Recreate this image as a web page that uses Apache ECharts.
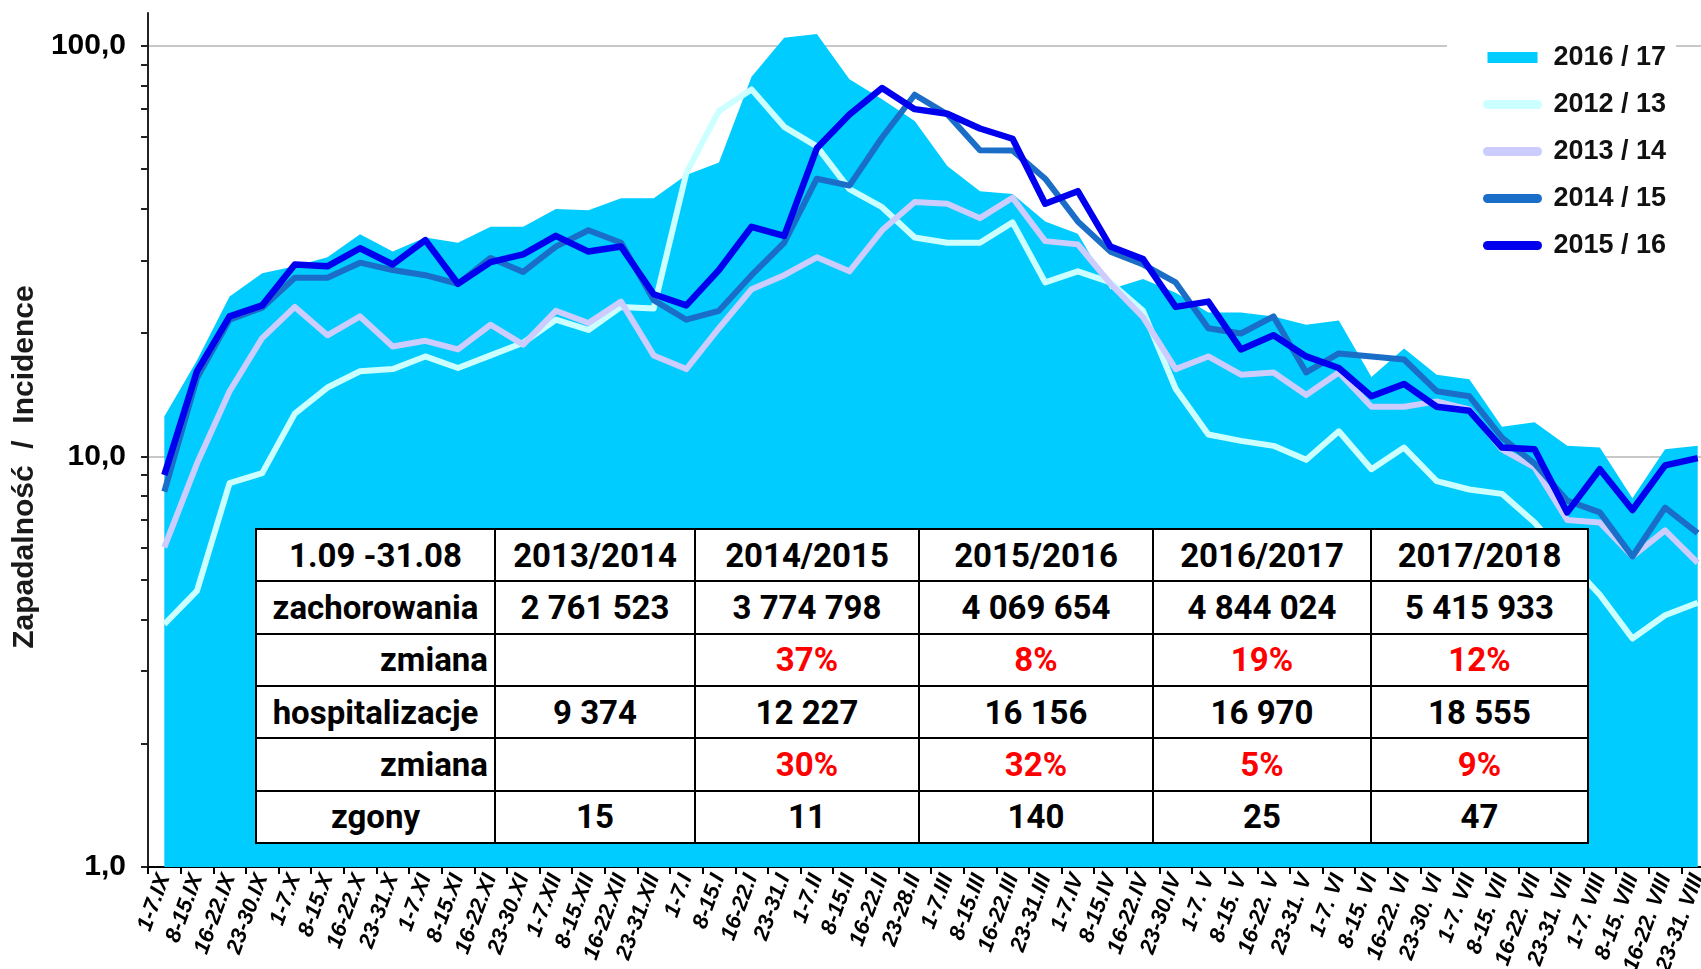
<!DOCTYPE html>
<html>
<head>
<meta charset="utf-8">
<script src="https://cdn.jsdelivr.net/npm/echarts@6/dist/echarts.min.js"></script>
<style>
  html, body { margin: 0; padding: 0; background: #fff; }
  #wrap { position: relative; width: 1701px; height: 969px; overflow: hidden; }
  #main { position: absolute; left: 0; top: 0; width: 1701px; height: 969px; }
  #tab {
    position: absolute; left: 255px; top: 528px; width: 1332px; height: 316px;
    border-collapse: collapse; background: #fff; table-layout: fixed;
    font-family: Roboto, sans-serif; font-weight: bold; font-size: 33px; color: #000;
  }
  #tab td { border: 2px solid #000; text-align: center; padding: 0 6px; white-space: nowrap; }
  #tab td.r { text-align: right; }
  #tab td.red { color: #ff0000; }
</style>
</head>
<body>
<div id="wrap">
  <div id="main"></div>
  <table id="tab"></table>
</div>
<script>
// tygodnie sezonu 1.09 - 31.08
var categories = [
  '1-7.IX', '8-15.IX', '16-22.IX', '23-30.IX', '1-7.X', '8-15.X', '16-22.X', '23-31.X',
  '1-7.XI', '8-15.XI', '16-22.XI', '23-30.XI', '1-7.XII', '8-15.XII', '16-22.XII', '23-31.XII',
  '1-7.I', '8-15.I', '16-22.I', '23-31.I', '1-7.II', '8-15.II', '16-22.II', '23-28.II',
  '1-7.III', '8-15.III', '16-22.III', '23-31.III', '1-7.IV', '8-15.IV', '16-22.IV', '23-30.IV',
  '1-7. V', '8-15. V', '16-22. V', '23-31. V', '1-7. VI', '8-15. VI', '16-22. VI', '23-30. VI',
  '1-7. VII', '8-15. VII', '16-22. VII', '23-31. VII', '1-7. VIII', '8-15. VIII', '16-22. VIII', '23-31. VIII'
];

var s2016 = [12.5, 17.1, 24.5, 27.9, 29.0, 30.5, 34.7, 31.5, 34.1, 33.1, 36.2, 36.2,
  40.0, 39.7, 42.5, 42.5, 48.4, 51.9, 83.9, 104.5, 106.6, 82.8, 74.0, 65.5,
  50.9, 44.2, 43.5, 37.3, 34.8, 25.5, 27.0, 25.0, 22.4, 22.4, 21.9, 20.9,
  21.4, 15.6, 18.3, 15.8, 15.4, 11.8, 12.1, 10.6, 10.5, 7.9, 10.4, 10.6];
var s2012 = [3.9, 4.7, 8.6, 9.1, 12.7, 14.7, 16.1, 16.3, 17.5, 16.4, 17.6, 18.9,
  21.5, 20.3, 23.1, 22.9, 48.9, 69.3, 78.2, 63.4, 56.8, 44.7, 40.4, 34.1,
  33.1, 33.1, 37.1, 26.5, 28.2, 26.5, 22.6, 14.6, 11.3, 10.9, 10.6, 9.8,
  11.5, 9.3, 10.5, 8.7, 8.3, 8.1, 6.9, 5.6, 4.6, 3.6, 4.1, 4.4];
var s2013 = [6.0, 9.6, 14.4, 19.4, 23.1, 19.7, 21.9, 18.5, 19.1, 18.2, 20.9, 18.7,
  22.6, 21.1, 23.8, 17.6, 16.3, 20.5, 25.5, 27.6, 30.5, 28.2, 35.5, 41.6,
  41.2, 38.0, 42.6, 33.4, 32.8, 26.3, 21.8, 16.3, 17.5, 15.8, 16.0, 14.1,
  16.0, 13.2, 13.2, 13.6, 13.0, 10.4, 9.4, 7.0, 6.9, 5.7, 6.6, 5.5];
var s2014 = [8.2, 15.5, 21.5, 23.0, 27.2, 27.2, 29.6, 28.4, 27.6, 26.3, 30.4, 28.1,
  32.4, 35.5, 33.1, 24.0, 21.5, 22.6, 27.6, 33.1, 47.4, 45.6, 59.7, 75.9,
  68.0, 55.6, 55.5, 47.4, 37.3, 31.5, 29.3, 26.5, 20.5, 19.9, 21.9, 16.0,
  17.8, 17.5, 17.2, 14.4, 14.0, 11.1, 9.6, 7.8, 7.3, 5.7, 7.5, 6.5];
var s2015 = [9.0, 16.1, 21.9, 23.3, 29.3, 29.0, 32.1, 29.3, 33.6, 26.3, 29.7, 31.0,
  34.4, 31.5, 32.4, 24.8, 23.3, 28.4, 36.2, 34.4, 56.2, 67.9, 78.8, 70.0,
  68.2, 62.8, 59.3, 41.2, 44.2, 32.4, 30.2, 23.1, 23.8, 18.2, 19.7, 17.5,
  16.4, 14.0, 15.0, 13.2, 12.9, 10.5, 10.4, 7.3, 9.3, 7.4, 9.5, 9.9];

var yLabels = [1, 10, 100];
var yMinorTicks = [1, 2, 3, 4, 5, 6, 7, 8, 9, 10, 20, 30, 40, 50, 60, 70, 80, 90, 100];

// tabela
var tabHead = ['1.09 -31.08', '2013/2014', '2014/2015', '2015/2016', '2016/2017', '2017/2018'];
var rowCases = ['2 761 523', '3 774 798', '4 069 654', '4 844 024', '5 415 933'];
var rowCasesChange = ['', '37%', '8%', '19%', '12%'];
var rowHosp = ['9 374', '12 227', '16 156', '16 970', '18 555'];
var rowHospChange = ['', '30%', '32%', '5%', '9%'];
var rowDeaths = ['15', '11', '140', '25', '47'];
var colWidths = [239, 200, 224, 234, 218, 217];

function buildTable() {
  var rows = [
    { label: tabHead[0], cells: tabHead.slice(1), cls: '' },
    { label: 'zachorowania', cells: rowCases, cls: '' },
    { label: 'zmiana', cells: rowCasesChange, cls: 'red', right: true },
    { label: 'hospitalizacje', cells: rowHosp, cls: '' },
    { label: 'zmiana', cells: rowHospChange, cls: 'red', right: true },
    { label: 'zgony', cells: rowDeaths, cls: '' }
  ];
  var html = '<colgroup>' + colWidths.map(function (w) {
    return '<col style="width:' + w + 'px">';
  }).join('') + '</colgroup>';
  rows.forEach(function (r) {
    html += '<tr><td' + (r.right ? ' class="r"' : '') + '>' + r.label + '</td>';
    r.cells.forEach(function (c) {
      html += '<td class="' + r.cls + '">' + c + '</td>';
    });
    html += '</tr>';
  });
  document.getElementById('tab').innerHTML = html;
}
buildTable();

var fontAxis = 'Liberation Sans, Arial, sans-serif';

var myChart = echarts.init(document.getElementById('main'));
var lineCommon = { type: 'line', symbol: 'none', smooth: false };

var option = {
  animation: false,
  backgroundColor: '#fff',
  grid: { left: 148, top: 13, width: 1566, height: 854, outerBoundsMode: 'none' },
  legend: {
    orient: 'vertical',
    left: 1447,
    top: 38,
    padding: [6, 10, 6, 36],
    backgroundColor: '#fff',
    itemWidth: 50,
    itemHeight: 11,
    itemGap: 20,
    itemStyle: { borderWidth: 0 },
    lineStyle: { width: 9, cap: 'round' },
    textStyle: { fontFamily: fontAxis, fontWeight: 'bold', fontSize: 27, lineHeight: 27, color: '#111', padding: [0, 0, 0, 11] },
    data: [{ name: '2016 / 17', icon: 'rect' }, '2012 / 13', '2013 / 14', '2014 / 15', '2015 / 16']
  },
  xAxis: {
    type: 'category',
    data: categories,
    boundaryGap: true,
    axisLine: { lineStyle: { color: '#000', width: 2 } },
    axisTick: { show: true, length: 7, lineStyle: { color: '#000', width: 2 } },
    axisLabel: {
      interval: 0, rotate: 70, margin: 8, color: '#000',
      fontFamily: fontAxis, fontWeight: 'bold', fontStyle: 'italic', fontSize: 22
    },
    splitLine: { show: false }
  },
  yAxis: [
    {
      type: 'log', logBase: 10, min: 1, max: 120, position: 'left',
      name: 'Zapadalność  /  Incidence',
      nameLocation: 'middle',
      nameGap: 108,
      nameTextStyle: { fontFamily: fontAxis, fontWeight: 'bold', fontSize: 30, color: '#1a1a1a', padding: [0, 54, 0, 0] },
      axisLine: { show: true, lineStyle: { color: '#222', width: 2 } },
      axisTick: { show: true, length: 7, customValues: yMinorTicks, lineStyle: { color: '#222', width: 2 } },
      axisLabel: {
        customValues: yLabels, margin: 22, color: '#000',
        fontFamily: fontAxis, fontWeight: 'bold', fontSize: 30,
        formatter: function (v) { return Number(v).toFixed(1).replace('.', ','); }
      },
      splitLine: { show: false }
    },
    {
      type: 'log', logBase: 10, min: 1, max: 120, position: 'left',
      axisLine: { show: false },
      axisTick: { show: false, customValues: [10, 100] },
      axisLabel: { show: false },
      splitLine: { show: true, lineStyle: { color: '#c8c8c8', width: 2 } }
    }
  ],
  series: [
    Object.assign({}, lineCommon, {
      name: '2016 / 17', data: s2016,
      itemStyle: { color: '#00ccff' },
      lineStyle: { width: 0, color: '#00ccff' },
      areaStyle: { color: '#00ccff', opacity: 1, origin: 'start' }
    }),
    Object.assign({}, lineCommon, {
      name: '2012 / 13', data: s2012,
      itemStyle: { color: '#ccffff' },
      lineStyle: { width: 6, color: '#ccffff', join: 'round' }
    }),
    Object.assign({}, lineCommon, {
      name: '2013 / 14', data: s2013,
      itemStyle: { color: '#ccccff' },
      lineStyle: { width: 6, color: '#ccccff', join: 'round' }
    }),
    Object.assign({}, lineCommon, {
      name: '2014 / 15', data: s2014,
      itemStyle: { color: '#1a6ec8' },
      lineStyle: { width: 6, color: '#1a6ec8', join: 'round' }
    }),
    Object.assign({}, lineCommon, {
      name: '2015 / 16', data: s2015,
      itemStyle: { color: '#0000ee' },
      lineStyle: { width: 6.5, color: '#0000ee', join: 'round' }
    })
  ]
};
myChart.setOption(option);
</script>
</body>
</html>
